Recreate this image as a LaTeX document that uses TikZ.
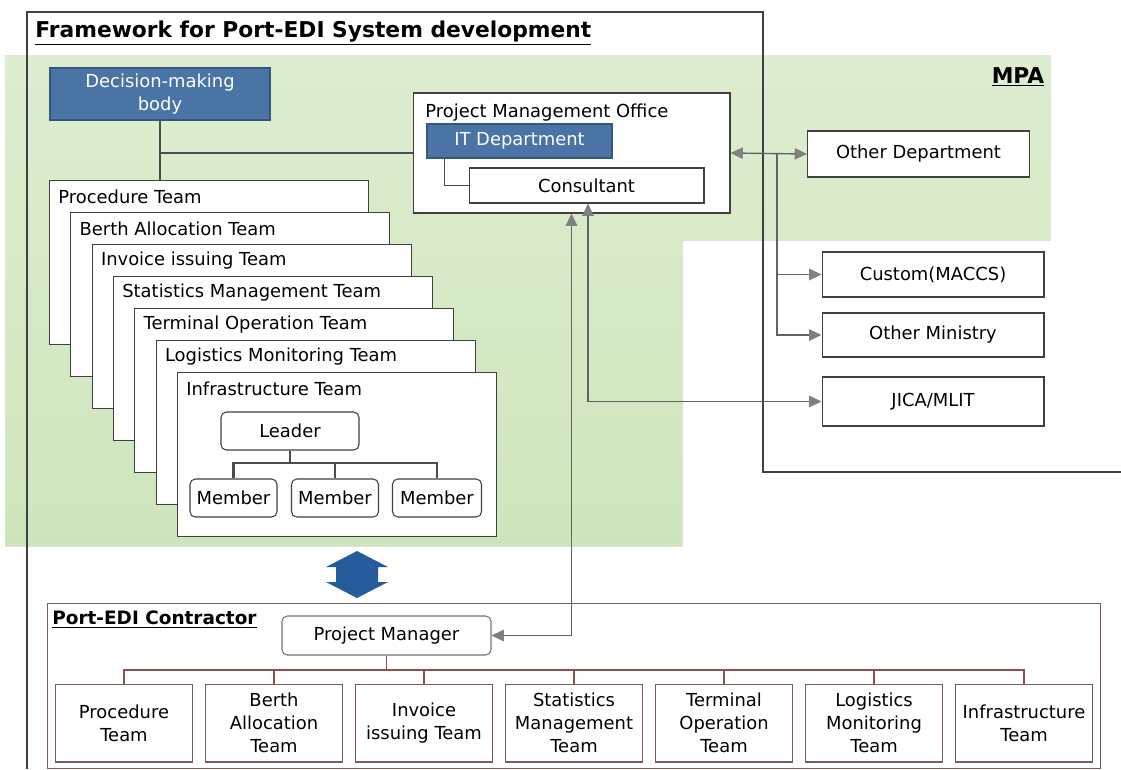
\documentclass[tikz,border=0pt]{standalone}
\usepackage{fontspec}
\setmainfont{DejaVu Sans}
\usetikzlibrary{arrows.meta,positioning,calc}

\definecolor{mpagreen}{RGB}{206,229,188}
\definecolor{mpagreenlt}{RGB}{222,237,209}
\definecolor{deptblue}{RGB}{74,116,166}
\definecolor{xchgblue}{RGB}{38,92,156}
\definecolor{lnk}{RGB}{95,102,95}
\definecolor{ctrline}{RGB}{125,92,92}

\begin{document}
\begin{tikzpicture}[
  x=0.02cm, y=-0.02cm,
  font=\fontsize{10.2}{13}\selectfont,
  >={Triangle[length=7pt,width=6.5pt,color=gray]},
  bx/.style={draw=black!75, line width=0.6pt, fill=white, inner sep=0pt, align=center},
  bluebx/.style={bx, draw=deptblue!75!black, fill=deptblue, text=white},
  rbx/.style={bx, rounded corners=3pt},
  team/.style={bx, anchor=north west, minimum width=6.38cm, minimum height=3.28cm},
  bot/.style={bx, draw=ctrline, minimum width=2.74cm, minimum height=1.56cm},
  rel/.style={<->, draw=lnk, line width=0.8pt},
  tree/.style={draw=black!70, line width=1.2pt},
  ctree/.style={draw=ctrline!85!red, line width=0.9pt},
  hd/.style={font=\fontsize{12.4}{14}\selectfont\bfseries, inner sep=0pt}
]
\useasboundingbox (0,0) rectangle (1121,769);

% MPA area
\fill[top color=mpagreenlt, bottom color=mpagreen] (5,55) -- (1050,55) -- (1050,240)
  -- (682,240) -- (682,546) -- (5,546) -- cycle;
\draw[black!75, line width=0.8pt] (27,769) -- (27,12) -- (763,12) -- (763,472) -- (1121,472);

\node[hd, anchor=west] (fw) at (35,33) {\underline{Framework for Port-EDI System development}};
\node[hd] (mpa) at (1018,77) {\underline{MPA}};

% decision body, PMO
\node[bluebx, minimum width=4.4cm, minimum height=1.04cm] (dmb) at (160,94) {Decision-making\\body};
\node[bx, minimum width=6.34cm, minimum height=2.4cm] (pmo) at (571.5,153) {};
\node[anchor=west, inner sep=0pt] (pmol) at (425,113) {Project Management Office};
\node[bluebx, minimum width=3.7cm, minimum height=0.68cm] (itd) at (519.5,141) {IT Department};
\node[bx, minimum width=4.7cm, minimum height=0.7cm] (cons) at (586.5,185.5) {Consultant};
\draw[tree, line width=1pt] ([xshift=0.36cm]itd.south west) |- (cons.west);

% outside MPA
\node[bx, minimum width=4.44cm, minimum height=0.92cm] (odep) at (918.5,154) {Other Department};
\node[bx, minimum width=4.44cm, minimum height=0.9cm] (cust) at (933,274.5) {Custom(MACCS)};
\node[bx, minimum width=4.44cm, minimum height=0.88cm] (omin) at (933,335) {Other Ministry};
\node[bx, minimum width=4.44cm, minimum height=0.98cm] (jica) at (933,401.5) {JICA/MLIT};

% teams
\foreach \tname [count=\i from 0] in {Procedure Team, Berth Allocation Team, Invoice issuing Team,
    Statistics Management Team, Terminal Operation Team, Logistics Monitoring Team, Infrastructure Team} {
  \node[team] (t\i) at ({49+21.33*\i},{180+32*\i}) {};
  \node[anchor=west, inner sep=0pt] (tl\i) at ([xshift=0.18cm,yshift=-0.34cm]t\i.north west) {\tname};
}
\draw[tree, line width=1pt] (dmb.south) -- (dmb.south |- t0.north);
\draw[tree, line width=1pt] (dmb.south |- pmo.west) -- (pmo.west);

\node[rbx, minimum width=2.76cm, minimum height=0.76cm] (lead) at (290,431) {Leader};
\node[rbx, minimum width=1.74cm, minimum height=0.76cm] (mem1) at (233.5,498) {Member};
\node[rbx, minimum width=1.74cm, minimum height=0.76cm] (mem2) at (335,498) {Member};
\node[rbx, minimum width=1.78cm, minimum height=0.76cm] (mem3) at (437,498) {Member};
\coordinate (jn) at (290,463);
\draw[tree] (lead.south) -- (jn);
\draw[tree] (mem1.north) |- (jn) -| (mem3.north);
\draw[tree] (mem2.north) -- (mem2.north |- jn);

% MPA <-> contractor
\fill[xchgblue] (357,551) -- (388,567) -- (378,567) -- (378,582) -- (388,582) -- (357,598)
  -- (326,582) -- (336,582) -- (336,567) -- (326,567) -- cycle;

% contractor
\node[bx, draw=ctrline, fill=none, anchor=north west, minimum width=21.06cm, minimum height=3.3cm] (ctr) at (47,603) {};
\node[hd, font=\fontsize{10.5}{12}\selectfont\bfseries, anchor=west] (ctrl) at (52,620) {\underline{Port-EDI Contractor}};
\node[rbx, draw=black!55, minimum width=4.18cm, minimum height=0.78cm] (pm) at (386.5,635.5) {Project Manager};
\foreach \bname [count=\j from 0] in {Procedure\\Team, Berth\\Allocation\\Team, Invoice\\issuing Team,
    Statistics\\Management\\Team, Terminal\\Operation\\Team, Logistics\\Monitoring\\Team, Infrastructure\\Team} {
  \node[bot] (b\j) at ({124+150*\j},723) {\bname};
}
\coordinate (cj) at (386.5,670);
\draw[ctree] (pm.south) -- (cj);
\draw[ctree] (b0.north) |- (cj) -| (b6.north);
\foreach \j in {1,...,5} \draw[ctree] (b\j.north) -- (b\j.north |- cj);

% links
\draw[rel] (pmo.east) -- (odep.west);
\coordinate (br) at (777,153);
\draw[rel, <-] (cust.west) -| (br);
\draw[rel, <-] (omin.west) -| (br);
\draw[rel] (pmo.south) |- (pm.east);
\draw[rel] ([xshift=0.03cm]cons.south) |- (jica.west);
\end{tikzpicture}
\end{document}
